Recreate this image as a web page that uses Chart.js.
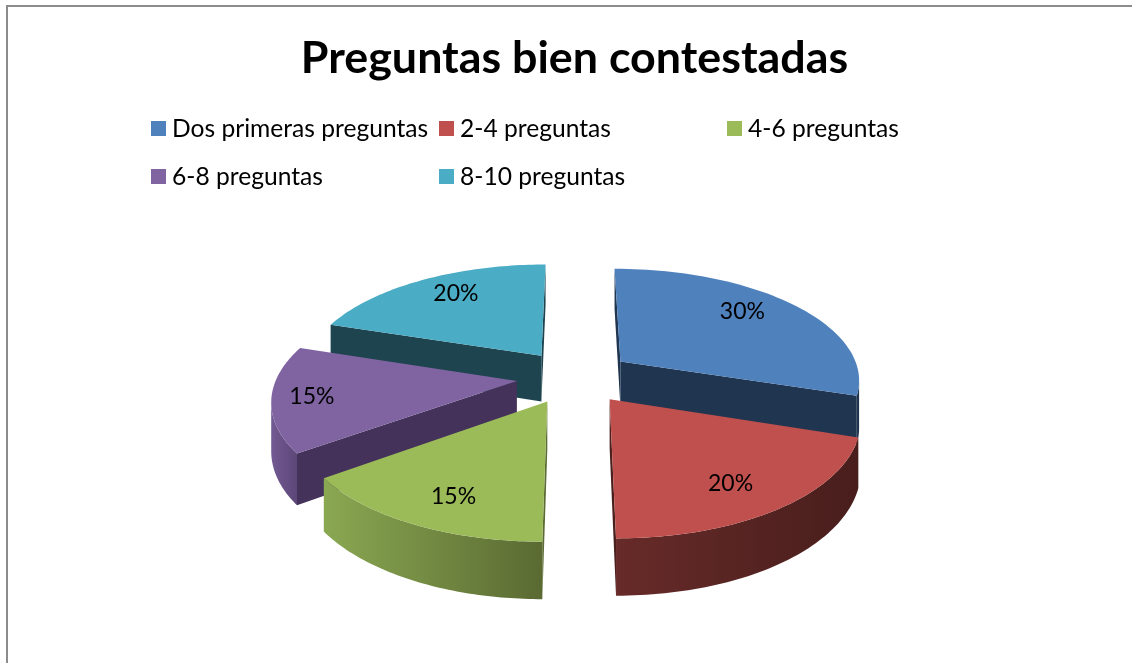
<!DOCTYPE html>
<html>
<head>
<meta charset="utf-8">
<script src="https://cdn.jsdelivr.net/npm/chart.js@4"></script>
<style>
  body { margin: 0; background: #fff; overflow: hidden; }
  #frame { position: absolute; left: 6px; top: 5px; right: 0; bottom: 0; border-left: 2px solid #8c8c8c; border-top: 2px solid #8c8c8c; }
  #chart { position: absolute; left: 0; top: 0; }
  #legend { position: absolute; left: 151px; top: 103px; display: grid; grid-template-columns: 288px 288px 288px; grid-auto-rows: 48px; font: 24.6px Lato, sans-serif; color: #000; }
  #legend div { display: flex; align-items: center; white-space: nowrap; }
  #legend i { display: block; width: 15px; height: 15px; margin-right: 6px; position: relative; top: 1px; }
</style>
</head>
<body>
<div id="frame"></div>
<canvas id="chart" width="1132" height="663"></canvas>
<div id="legend"></div>
<script>
var categories = ['Dos primeras preguntas', '2-4 preguntas', '4-6 preguntas', '6-8 preguntas', '8-10 preguntas'];
var values = [30, 20, 15, 15, 20];

var topColors = ['#4f81bd', '#c0504d', '#9bbb59', '#8064a2', '#4bacc6'];
var cutColors = ['#1f3550', '#4a1f1d', '#5b6b33', '#44325a', '#1e444f'];
var wallLeft = ['#1f3550', '#672b29', '#8aa852', '#735a93', '#2a6070'];
var wallRight = ['#1f3550', '#481e1c', '#5a6a32', '#5c4778', '#1e444f'];
var labelDist = [0.67, 0.75, 0.78, 0.85, 0.66]; // how far out each % sits
var labelNudge = [[4, -10], [-3, 6], [8, 3], [3, 0], [-4, -10]];

var tilt = 0.462, persp = 0.15, depth = 47;

function project(arc, X, Y, Z) {
    var R = arc.outerRadius;
    var s = 1 / (1 - persp * Y / R);
    return { x: arc.x + X * s, y: arc.y + (Y * tilt - Z) * s };
}

function fillPoly(ctx, pts, fill) {
    ctx.beginPath();
    pts.forEach(function (p, i) {
        if (i === 0) ctx.moveTo(p.x, p.y); else ctx.lineTo(p.x, p.y);
    });
    ctx.closePath();
    ctx.fillStyle = fill;
    ctx.fill();
}

// the slice outline on the plane z, apex first then along the arc
function outline(arc, z) {
    var mid = (arc.startAngle + arc.endAngle) / 2;
    var ax = Math.cos(mid) * arc.options.offset, ay = Math.sin(mid) * arc.options.offset;
    var pts = [project(arc, ax, ay, z)];
    var steps = 60;
    for (var i = 0; i <= steps; i++) {
        var t = arc.startAngle + (arc.endAngle - arc.startAngle) * i / steps;
        pts.push(project(arc, ax + Math.cos(t) * arc.outerRadius, ay + Math.sin(t) * arc.outerRadius, z));
    }
    return pts;
}

function drawSlice(ctx, arc, i) {
    var top = outline(arc, 0), bottom = outline(arc, -depth);
    var last = top.length - 1;

    // flat cut faces, only the ones turned toward us
    [[0, 1], [last, 0]].forEach(function (e) {
        if (top[e[1]].x < top[e[0]].x) {
            fillPoly(ctx, [top[e[0]], top[e[1]], bottom[e[1]], bottom[e[0]]], cutColors[i]);
        }
    });

    // curved outer wall
    var run = [];
    for (var k = 1; k < last; k++) {
        if (top[k + 1].x < top[k].x) {
            if (run.length === 0) run.push(k);
            run.push(k + 1);
        }
    }
    if (run.length) {
        var xs = run.map(function (k) { return top[k].x; });
        var g = ctx.createLinearGradient(Math.min.apply(null, xs), 0, Math.max.apply(null, xs), 0);
        g.addColorStop(0, wallLeft[i]);
        g.addColorStop(1, wallRight[i]);
        var poly = run.map(function (k) { return top[k]; })
            .concat(run.slice().reverse().map(function (k) { return bottom[k]; }));
        fillPoly(ctx, poly, g);
    }

    fillPoly(ctx, top, topColors[i]);
}

var pie3d = {
    id: 'pie3d',
    beforeDatasetDraw: function (chart) {
        var ctx = chart.ctx;
        var arcs = chart.getDatasetMeta(0).data;
        var order = arcs.map(function (a, i) { return i; }).sort(function (a, b) {
            var ma = (arcs[a].startAngle + arcs[a].endAngle) / 2, mb = (arcs[b].startAngle + arcs[b].endAngle) / 2;
            return Math.sin(ma) - Math.sin(mb);
        });
        order.forEach(function (i) { drawSlice(ctx, arcs[i], i); });

        ctx.fillStyle = '#000';
        ctx.font = '23px Lato, sans-serif';
        ctx.textAlign = 'center';
        ctx.textBaseline = 'middle';
        arcs.forEach(function (arc, i) {
            var mid = (arc.startAngle + arc.endAngle) / 2;
            var d = arc.options.offset + arc.outerRadius * labelDist[i];
            var p = project(arc, Math.cos(mid) * d, Math.sin(mid) * d, 0);
            ctx.fillText(values[i] + '%', p.x + labelNudge[i][0], p.y + labelNudge[i][1]);
        });
        return false;
    }
};

new Chart(document.getElementById('chart'), {
    type: 'pie',
    data: {
        labels: categories,
        datasets: [{
            data: values,
            backgroundColor: topColors,
            offset: 58,
            borderWidth: 0
        }]
    },
    options: {
        responsive: false,
        animation: false,
        events: [],
        radius: 240,
        layout: { padding: { left: 17 } },
        plugins: {
            legend: { display: false },
            tooltip: { enabled: false },
            title: {
                display: true,
                text: 'Preguntas bien contestadas',
                color: '#000',
                font: { family: 'Lato, sans-serif', size: 44.8, weight: 'bold' },
                padding: { top: 32, bottom: 5 }
            }
        }
    },
    plugins: [pie3d]
});

document.getElementById('legend').innerHTML = categories.map(function (c, i) {
    return '<div><i style="background:' + topColors[i] + '"></i>' + c + '</div>';
}).join('');
</script>
</body>
</html>
